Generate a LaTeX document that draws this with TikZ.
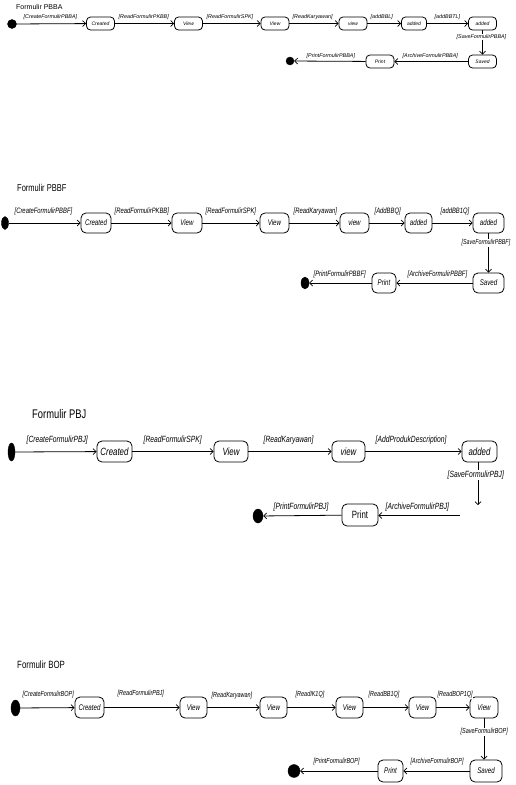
\documentclass[tikz,border=0pt]{standalone}
\usepackage{fontspec}
\setmainfont{Liberation Sans}
\newfontfamily\pf{Liberation Sans}
\newfontfamily\cf[FakeStretch=0.75]{Liberation Sans}
\usetikzlibrary{arrows.meta,shapes.geometric}
\tikzset{
  tr/.style={draw, line width=0.8pt, -{Straight Barb[length=3pt,width=6pt,line width=0.7pt]}},
  sA/.style={draw, line width=0.8pt, rounded corners=4pt, minimum width=28pt, minimum height=13pt, inner sep=0pt, font=\pf\itshape\fontsize{5}{5}\selectfont},
  lA/.style={anchor=west, inner sep=0.5pt, fill=white, font=\pf\itshape\fontsize{5.4}{5.4}\selectfont},
  sB/.style={draw, line width=0.8pt, rounded corners=5pt, minimum height=20pt, inner sep=0pt, font=\cf\itshape\fontsize{8.2}{8.2}\selectfont},
  lB/.style={anchor=west, inner sep=0.5pt, fill=white, font=\cf\itshape\fontsize{7.8}{7.8}\selectfont},
  sC/.style={draw, line width=0.8pt, rounded corners=5pt, minimum height=21pt, inner sep=0pt, font=\cf\itshape\fontsize{10.5}{10.5}\selectfont},
  lC/.style={anchor=west, inner sep=0.5pt, fill=white, font=\cf\itshape\fontsize{9}{9}\selectfont},
  sD/.style={draw, line width=0.8pt, rounded corners=5pt, minimum height=21pt, inner sep=0pt, font=\cf\itshape\fontsize{8.2}{8.2}\selectfont},
  lD/.style={anchor=west, inner sep=0.5pt, fill=white, font=\cf\itshape\fontsize{7.3}{7.3}\selectfont},
  ttl/.style={anchor=west, inner sep=0pt},
  ini/.style={fill=black, draw=black, inner sep=0pt},
}
\begin{document}
\begin{tikzpicture}[x=1pt,y=-1pt]
\useasboundingbox[fill=white] (0,0) rectangle (515,785);

% ---------------- Diagram 1: PBBA ----------------
\node[ttl, font=\pf\fontsize{7}{7}\selectfont] (t1) at (16,7) {Formulir PBBA};
\node[ini, circle, minimum size=9pt] (i1) at (12,24) {};
\node[sA] (c1) at (100.5,23.5) {Created};
\node[sA] (v1a) at (188.5,23.5) {View};
\node[sA] (v1b) at (275,23.5) {View};
\node[sA] (v1c) at (353,23.5) {view};
\node[sA, minimum width=25pt] (a1a) at (414,23.5) {added};
\node[sA] (a1b) at (482.5,23.5) {added};
\node[sA] (s1) at (482.5,61.5) {Saved};
\node[sA] (p1) at (380,61.5) {Print};
\node[ini, circle, minimum size=8pt] (f1) at (290,61) {};
\draw[tr] (i1) -- (c1);
\draw[tr] (c1) -- (v1a);
\draw[tr] (v1a) -- (v1b);
\draw[tr] (v1b) -- (v1c);
\draw[tr] (v1c) -- (a1a);
\draw[tr] (a1a) -- (a1b);
\draw[tr] (a1b) -- (s1);
\draw[tr] (s1) -- (p1);
\draw[tr] (p1) -- (f1);
\node[lA] (l1a) at (23,17) {[CreateFormulirPBBA]};
\node[lA] (l1b) at (118,17) {[ReadFormulirPKBB]};
\node[lA] (l1c) at (206,17) {[ReadFormulirSPK]};
\node[lA] (l1d) at (292,17) {[ReadKaryawan]};
\node[lA] (l1e) at (370,17) {[addBBL]};
\node[lA] (l1f) at (434,17) {[addBBTL]};
\node[lA] (l1g) at (456,37) {[SaveFormulirPBBA]};
\node[lA] (l1h) at (402,56) {[ArchiveFormulirPBBA]};
\node[lA] (l1i) at (306,56) {[PrintFormulirPBBA]};

% ---------------- Diagram 2: PBBF ----------------
\node[ttl, font=\cf\fontsize{10}{10}\selectfont] (t2) at (17,188) {Formulir PBBF};
\node[ini, ellipse, minimum width=7pt, minimum height=13pt] (i2) at (5,223) {};
\node[sB, minimum width=30pt] (c2) at (96,223) {Created};
\node[sB, minimum width=30pt] (v2a) at (187,223) {View};
\node[sB, minimum width=29pt] (v2b) at (274.5,223) {View};
\node[sB, minimum width=29pt] (v2c) at (354.5,223) {view};
\node[sB, minimum width=27pt] (a2a) at (418.5,223) {added};
\node[sB, minimum width=31pt] (a2b) at (488.5,223) {added};
\node[sB, minimum width=31pt] (s2) at (488.5,283) {Saved};
\node[sB, minimum width=24pt] (p2) at (384,283) {Print};
\node[ini, ellipse, minimum width=8pt, minimum height=12pt] (f2) at (305,283) {};
\draw[tr] (i2) -- (c2);
\draw[tr] (c2) -- (v2a);
\draw[tr] (v2a) -- (v2b);
\draw[tr] (v2b) -- (v2c);
\draw[tr] (v2c) -- (a2a);
\draw[tr] (a2a) -- (a2b);
\draw[tr] (a2b) -- (s2);
\draw[tr] (s2) -- (p2);
\draw[tr] (p2) -- (f2);
\node[lB] (l2a) at (14,211) {[CreateFormulirPBBF]};
\node[lB] (l2b) at (114,211) {[ReadFormulirPKBB]};
\node[lB] (l2c) at (205,211) {[ReadFormulirSPK]};
\node[lB] (l2d) at (293,211) {[ReadKaryawan]};
\node[lB] (l2e) at (374,211) {[AddBBQ]};
\node[lB] (l2f) at (440,211) {[addBB1Q]};
\node[lB, font=\cf\itshape\fontsize{7.1}{7.1}\selectfont] (l2g) at (461,243) {[SaveFormulirPBBF]};
\node[lB] (l2h) at (407,274) {[ArchiveFormulirPBBF]};
\node[lB] (l2i) at (313,274) {[PrintFormulirPBBF]};

% ---------------- Diagram 3: PBJ ----------------
\node[ttl, font=\cf\fontsize{12.5}{12.5}\selectfont] (t3) at (32,414) {Formulir PBJ};
\node[ini, ellipse, minimum width=7pt, minimum height=18pt] (i3) at (11.5,452) {};
\node[sC, minimum width=35pt] (c3) at (114.5,451.5) {Created};
\node[sC, minimum width=34pt] (v3a) at (231,451.5) {View};
\node[sC, minimum width=33pt] (v3b) at (348.5,451.5) {view};
\node[sC, minimum width=35pt] (a3) at (479.5,451.5) {added};
\node[sC, minimum width=36pt, minimum height=22pt, font=\cf\fontsize{10.5}{10.5}\selectfont] (p3) at (360,515) {Print};
\node[ini, ellipse, minimum width=10pt, minimum height=14pt] (f3) at (258,516) {};
\coordinate (e3) at (478,505);
\coordinate (s3) at (460,515.5);
\draw[tr] (i3) -- (c3);
\draw[tr] (c3) -- (v3a);
\draw[tr] (v3a) -- (v3b);
\draw[tr] (v3b) -- (a3);
\draw[tr] (a3.south -| e3) -- (e3);
\draw[tr] (s3) -- (p3.east |- s3);
\draw[tr] (p3) -- (f3);
\node[lC] (l3a) at (26,440) {[CreateFormulirPBJ]};
\node[lC] (l3b) at (143,440) {[ReadFormulirSPK]};
\node[lC] (l3c) at (263,440) {[ReadKaryawan]};
\node[lC] (l3d) at (375,440) {[AddProdukDescription]};
\node[lC] (l3e) at (447,475) {[SaveFormulirPBJ]};
\node[lC] (l3f) at (385,507) {[ArchiveFormulirPBJ]};
\node[lC] (l3g) at (273,507) {[PrintFormulirPBJ]};

% ---------------- Diagram 4: BOP ----------------
\node[ttl, font=\cf\fontsize{10.5}{10.5}\selectfont] (t4) at (17,665) {Formulir BOP};
\node[ini, ellipse, minimum width=9pt, minimum height=16pt] (i4) at (15.5,708) {};
\node[sD, minimum width=29pt] (c4) at (89.5,707.5) {Created};
\node[sD, minimum width=27pt] (v4a) at (193.5,707.5) {View};
\node[sD, minimum width=27pt] (v4b) at (273.5,707.5) {View};
\node[sD, minimum width=27pt] (v4c) at (349.5,707.5) {View};
\node[sD, minimum width=27pt] (v4d) at (422.5,707.5) {View};
\node[sD, minimum width=28pt] (v4e) at (484,707.5) {View};
\node[sD, minimum width=32pt, minimum height=22pt] (s4) at (486,771) {Saved};
\node[sD, minimum width=25pt, minimum height=22pt] (p4) at (390.5,771) {Print};
\node[ini, ellipse, minimum width=12pt, minimum height=13pt] (f4) at (294,771) {};
\draw[tr] (i4) -- (c4);
\draw[tr] (c4) -- (v4a);
\draw[tr] (v4a) -- (v4b);
\draw[tr] (v4b) -- (v4c);
\draw[tr] (v4c) -- (v4d);
\draw[tr] (v4d) -- (v4e);
\draw[tr] (v4e) -- (v4e.south |- s4.north);
\draw[tr] (s4) -- (p4);
\draw[tr] (p4) -- (f4);
\node[lD] (l4a) at (22,695) {[CreateFormulirBOP]};
\node[lD] (l4b) at (117,694) {[ReadFormulirPBJ]};
\node[lD] (l4c) at (211,696) {[ReadKaryawan]};
\node[lD] (l4d) at (295,695) {[ReadIK1Q]};
\node[lD] (l4e) at (368,695) {[ReadBB1Q]};
\node[lD] (l4f) at (437,695) {[ReadBOP1Q]};
\node[lD] (l4g) at (460,732) {[SaveFormulirBOP]};
\node[lD] (l4h) at (410,762) {[ArchiveFormulirBOP]};
\node[lD] (l4i) at (313,762) {[PrintFormulirBOP]};
\end{tikzpicture}
\end{document}
